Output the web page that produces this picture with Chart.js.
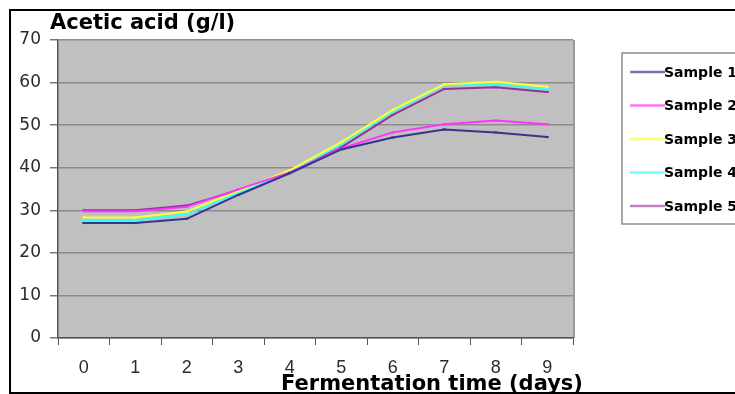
<!DOCTYPE html>
<html>
<head>
<meta charset="utf-8">
<script src="https://cdn.jsdelivr.net/npm/chart.js@4"></script>
<style>
    html, body { margin: 0; padding: 0; background: #fff; }
    #wrap { position: relative; width: 735px; height: 394px; }
    #frame { position: absolute; left: 9px; top: 9px; width: 740px; height: 381px; border: 2px solid #000; pointer-events: none; }
</style>
</head>
<body>
<div id="wrap">
    <canvas id="acidChart" width="735" height="394"></canvas>
    <div id="frame"></div>
</div>
<script>
const days = ['0', '1', '2', '3', '4', '5', '6', '7', '8', '9'];
const yTicks = [0, 10, 20, 30, 40, 50, 60, 70];
const sample1 = [27.0, 27.0, 28.0, 33.6, 38.7, 44.3, 47.1, 49.0, 48.3, 47.2];
const sample2 = [29.8, 29.8, 30.8, 34.9, 38.9, 44.5, 48.3, 50.2, 51.1, 50.2];
const sample3 = [28.3, 28.3, 29.7, 34.5, 39.4, 46.0, 53.6, 59.6, 60.2, 59.0];
const sample4 = [27.6, 27.6, 29.1, 34.1, 39.1, 45.6, 53.2, 59.4, 59.7, 58.4];
const sample5 = [30.0, 30.0, 31.1, 34.7, 38.8, 44.8, 52.4, 58.5, 58.9, 57.8];
const sampleNames = ['Sample 1', 'Sample 2', 'Sample 3', 'Sample 4', 'Sample 5'];

const lineColors = ['#35358f', '#ff33ff', '#ffff33', '#33ffff', '#93339a'];
const legendColors = ['#7474b4', '#ff70ff', '#ffff70', '#70ffff', '#c080c0'];

// grey plot background
const plotBackground = {
    id: 'plotBackground',
    beforeDraw(chart) {
        const { ctx, chartArea: a } = chart;
        ctx.save();
        ctx.fillStyle = '#c0c0c0';
        ctx.fillRect(a.left, a.top, a.right - a.left, a.bottom - a.top);
        ctx.strokeStyle = '#9a9a9a';
        ctx.lineWidth = 2;
        ctx.beginPath();
        ctx.moveTo(a.right + 1, a.top);
        ctx.lineTo(a.right + 1, a.bottom);
        ctx.stroke();
        ctx.restore();
    }
};

// axis titles and the boxed legend
const decorations = {
    id: 'decorations',
    afterDraw(chart) {
        const { ctx } = chart;
        ctx.save();
        ctx.fillStyle = '#000';
        ctx.font = 'bold 21px "DejaVu Sans"';
        ctx.textBaseline = 'alphabetic';
        ctx.textAlign = 'left';
        ctx.fillText('Acetic acid (g/l)', 50, 29);
        ctx.textAlign = 'center';
        ctx.fillText('Fermentation time (days)', 432, 390);

        ctx.fillStyle = '#fff';
        ctx.fillRect(622, 53, 130, 171);
        ctx.strokeStyle = '#8a8a8a';
        ctx.lineWidth = 1.5;
        ctx.strokeRect(622, 53, 130, 171);

        ctx.textAlign = 'left';
        ctx.textBaseline = 'middle';
        ctx.font = 'bold 14px "DejaVu Sans"';
        chart.data.datasets.forEach((ds, i) => {
            const y = 72 + i * 33.5;
            ctx.strokeStyle = legendColors[i];
            ctx.lineWidth = 2.5;
            ctx.beginPath();
            ctx.moveTo(630, y);
            ctx.lineTo(665, y);
            ctx.stroke();
            ctx.fillStyle = '#000';
            ctx.fillText(ds.label, 664, y + 1);
        });
        ctx.restore();
    }
};

const seriesValues = [sample1, sample2, sample3, sample4, sample5];

const ctx = document.getElementById('acidChart').getContext('2d');
const acidChart = new Chart(ctx, {
    type: 'line',
    data: {
        labels: days,
        datasets: seriesValues.map((values, i) => ({
            label: sampleNames[i],
            data: values,
            borderColor: lineColors[i],
            backgroundColor: lineColors[i],
            borderWidth: 2,
            pointRadius: 1.5,
            pointStyle: 'line',
            tension: 0
        }))
    },
    options: {
        responsive: false,
        animation: false,
        layout: { padding: { top: 40, right: 162, left: 0, bottom: 0 } },
        plugins: {
            legend: { display: false },
            tooltip: { enabled: false }
        },
        scales: {
            x: {
                type: 'category',
                offset: true,
                grid: {
                    offset: true,
                    drawOnChartArea: false,
                    drawTicks: true,
                    tickLength: 7,
                    tickColor: '#555'
                },
                border: { display: true, color: '#555', width: 1.5 },
                ticks: {
                    color: '#2a2a36',
                    font: { family: 'Liberation Sans', size: 18 },
                    padding: 12,
                    maxRotation: 0
                },
                afterFit(axis) { axis.height = 56; }
            },
            y: {
                min: 0,
                max: 70,
                afterBuildTicks(axis) { axis.ticks = yTicks.map(v => ({ value: v })); },
                grid: {
                    color: '#8c8c8c',
                    lineWidth: 1.5,
                    tickLength: 8,
                    tickColor: '#777'
                },
                border: { display: true, color: '#555', width: 1.5 },
                ticks: {
                    color: '#2a2a36',
                    font: { family: 'DejaVu Sans', size: 17 },
                    padding: 9
                },
                afterFit(axis) { axis.width = 58; }
            }
        }
    },
    plugins: [plotBackground, decorations]
});
</script>
</body>
</html>
